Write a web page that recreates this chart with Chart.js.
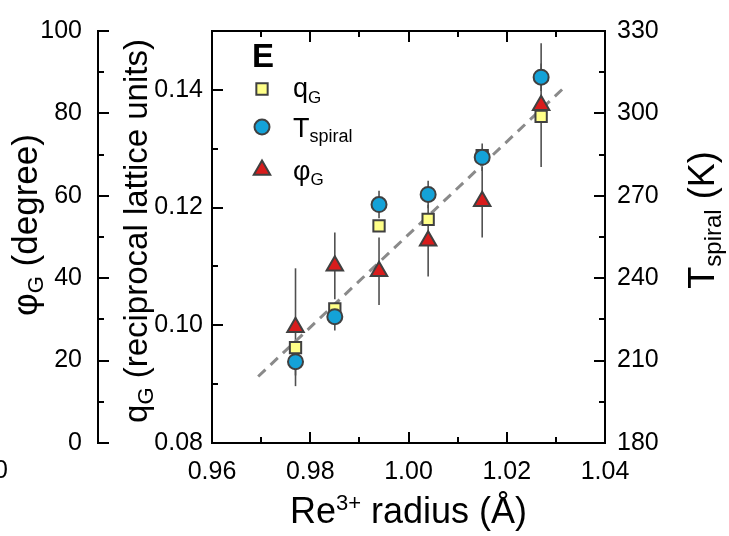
<!DOCTYPE html>
<html><head><meta charset="utf-8">
<script src="https://cdn.jsdelivr.net/npm/chart.js@4"></script>
<style>html,body{margin:0;padding:0;background:#fff;}canvas{display:block}</style>
</head><body>
<canvas id="c" width="729" height="536"></canvas>
<script>
// ---- data ----
const radius     = [0.977, 0.985, 0.994, 1.004, 1.015, 1.027];
const qG         = [0.0962, 0.1028, 0.1169, 0.1180, 0.1288, 0.1355];
const Tspiral    = [209.6, 226.0, 266.8, 270.5, 284.0, 313.2];
const TspiralErr = [5, 5, 5, 5, 5, 5];
const phiG       = [28.1, 43.0, 41.7, 49.1, 58.7, 82.0];
const phiGErr    = [14.3, 8.1, 8.2, 8.7, 8.8, 15.0];
const fitX       = [0.9694, 1.0322];
const fitQ       = [0.0913, 0.1408];

// ---- tick labels ----
const xTicks     = [0.96, 0.98, 1.00, 1.02, 1.04];
const xMinor     = [0.97, 0.99, 1.01, 1.03];
const qTicks     = [0.08, 0.10, 0.12, 0.14];
const qMinor     = [0.09, 0.11, 0.13];
const phiTicks   = [0, 20, 40, 60, 80, 100];
const phiMinor   = [10, 30, 50, 70, 90];
const tTicks     = [180, 210, 240, 270, 300, 330];
const tMinor     = [195, 225, 255, 285, 315];

const FAM = "'Liberation Sans', Arial, sans-serif";
Chart.defaults.font.family = FAM;
const TICKFONT = {family: FAM, size: 25};
const EDGE = '#404040';
const C_SQ = '#ffff88', C_CI = '#14a2d8', C_TR = '#d81c1c';

const pts = (xs, ys) => xs.map((x, i) => ({x: x, y: ys[i]}));
const setTicks = arr => (s => { s.ticks = arr.map(v => ({value: v})); });

function axisCommon(extra) {
  return Object.assign({
    type: 'linear',
    grid: {display: false, drawTicks: false},
    border: {display: true, color: '#000', width: 2},
  }, extra);
}

const errPlugin = {
  id: 'errbars',
  beforeDatasetsDraw(chart) {
    const ctx = chart.ctx, xs = chart.scales.x;
    ctx.save();
    ctx.strokeStyle = '#505050'; ctx.lineWidth = 1.6;
    const draw = (vals, errs, sc) => {
      vals.forEach((v, i) => {
        const px = xs.getPixelForValue(radius[i]);
        ctx.beginPath();
        ctx.moveTo(px, sc.getPixelForValue(v - errs[i]));
        ctx.lineTo(px, sc.getPixelForValue(v + errs[i]));
        ctx.stroke();
      });
    };
    draw(phiG, phiGErr, chart.scales.yPhi);
    draw(Tspiral, TspiralErr, chart.scales.yT);
    ctx.restore();
  }
};

function drawRich(ctx, parts, cx, cy, rot) {
  ctx.save();
  ctx.translate(cx, cy); ctx.rotate(rot);
  let w = 0;
  parts.forEach(p => { ctx.font = (p.b ? 'bold ' : '') + p.s + 'px ' + FAM; p.w = ctx.measureText(p.t).width; w += p.w; });
  let x = -w / 2;
  ctx.textAlign = 'left'; ctx.textBaseline = 'alphabetic'; ctx.fillStyle = '#000';
  parts.forEach(p => { ctx.font = (p.b ? 'bold ' : '') + p.s + 'px ' + FAM; ctx.fillText(p.t, x, p.dy || 0); x += p.w; });
  ctx.restore();
}
function drawLeft(ctx, parts, x0, y0) {
  ctx.save();
  ctx.textAlign = 'left'; ctx.textBaseline = 'alphabetic'; ctx.fillStyle = '#000';
  let x = x0;
  parts.forEach(p => { ctx.font = (p.b ? 'bold ' : '') + p.s + 'px ' + FAM; ctx.fillText(p.t, x, y0 + (p.dy || 0)); x += ctx.measureText(p.t).width; });
  ctx.restore();
}

const decoPlugin = {
  id: 'deco',
  afterDraw(chart) {
    const ctx = chart.ctx, S = chart.scales, a = chart.chartArea;
    ctx.save();
    ctx.strokeStyle = '#000'; ctx.lineWidth = 2; ctx.lineCap = 'butt';
    const MJ = 11, MN = 6;
    const hTicks = (sc, y, dir, arr, len) => arr.forEach(v => {
      const p = Math.round(sc.getPixelForValue(v));
      ctx.beginPath(); ctx.moveTo(p, y); ctx.lineTo(p, y + dir * len); ctx.stroke();
    });
    const vTicks = (sc, x, dir, arr, len) => arr.forEach(v => {
      const p = Math.round(sc.getPixelForValue(v));
      ctx.beginPath(); ctx.moveTo(x, p); ctx.lineTo(x + dir * len, p); ctx.stroke();
    });
    hTicks(S.x, a.bottom, -1, xTicks, MJ); hTicks(S.x, a.bottom, -1, xMinor, MN);
    hTicks(S.xTop, a.top, 1, xTicks, MJ); hTicks(S.xTop, a.top, 1, xMinor, MN);
    vTicks(S.yQ, a.left, 1, qTicks, MJ); vTicks(S.yQ, a.left, 1, qMinor, MN);
    vTicks(S.yT, a.right, -1, tTicks, MJ); vTicks(S.yT, a.right, -1, tMinor, MN);
    const xl = S.yPhi.right;
    vTicks(S.yPhi, xl, 1, phiTicks, MJ); vTicks(S.yPhi, xl, 1, phiMinor, MN);
    ctx.restore();

    // axis titles
    drawRich(ctx, [{t: 'Re', s: 36}, {t: '3+', s: 22, dy: -13}, {t: ' radius (\u00C5)', s: 36}], (a.left + a.right) / 2, 523, 0);
    drawRich(ctx, [{t: '\u03C6', s: 35}, {t: 'G', s: 22, dy: 6}, {t: ' (degree)', s: 35}], 37, 225, -Math.PI / 2);
    drawRich(ctx, [{t: 'q', s: 33}, {t: 'G', s: 22, dy: 6}, {t: ' (reciprocal lattice units)', s: 33}], 147, 231, -Math.PI / 2);
    drawRich(ctx, [{t: 'T', s: 36}, {t: 'spiral', s: 24, dy: 7}, {t: ' (K)', s: 36}], 714, 220, -Math.PI / 2);

    // stray label of neighbouring panel
    ctx.save(); ctx.font = '25px ' + FAM; ctx.fillStyle = '#000'; ctx.textAlign = 'right'; ctx.textBaseline = 'middle';
    ctx.fillText('0', 8, 471); ctx.restore();

    // legend
    drawLeft(ctx, [{t: 'E', s: 33, b: true}], 252, 67);
    const sym = (style, r, fill, x, y) => {
      ctx.save(); ctx.fillStyle = fill; ctx.strokeStyle = EDGE; ctx.lineWidth = 2;
      Chart.helpers.drawPoint(ctx, {pointStyle: style, radius: r, borderWidth: 2, rotation: 0}, x, y);
      ctx.restore();
    };
    sym('rect', 8, C_SQ, 262, 89);
    sym('circle', 7.5, C_CI, 262, 127);
    sym('triangle', 9.5, C_TR, 262, 170);
    drawLeft(ctx, [{t: 'q', s: 27}, {t: 'G', s: 17, dy: 6}], 293, 97);
    drawLeft(ctx, [{t: 'T', s: 27}, {t: 'spiral', s: 18, dy: 5}], 293, 137);
    drawLeft(ctx, [{t: '\u03C6', s: 27}, {t: 'G', s: 17, dy: 5}], 293, 180);
  }
};

new Chart(document.getElementById('c'), {
  type: 'scatter',
  data: {
    datasets: [
      {label: 'phiG', data: pts(radius, phiG), xAxisID: 'x', yAxisID: 'yPhi',
       pointStyle: 'triangle', pointRadius: 9.5, pointBackgroundColor: C_TR, pointBorderColor: EDGE, pointBorderWidth: 2, showLine: false},
      {label: 'Tspiral', data: pts(radius, Tspiral), xAxisID: 'x', yAxisID: 'yT',
       pointStyle: 'circle', pointRadius: 7.5, pointBackgroundColor: C_CI, pointBorderColor: EDGE, pointBorderWidth: 2, showLine: false},
      {label: 'qG', data: pts(radius, qG), xAxisID: 'x', yAxisID: 'yQ',
       pointStyle: 'rect', pointRadius: 8, pointBackgroundColor: C_SQ, pointBorderColor: EDGE, pointBorderWidth: 2, showLine: false},
      {type: 'line', label: 'fit', data: pts(fitX, fitQ), xAxisID: 'x', yAxisID: 'yQ',
       borderColor: '#8a8a8a', borderWidth: 3, borderDash: [10, 7], pointRadius: 0, fill: false, tension: 0}
    ]
  },
  options: {
    responsive: false, animation: false, devicePixelRatio: 1,
    layout: {padding: {left: 0, right: 0, top: 23, bottom: 0}},
    plugins: {legend: {display: false}, tooltip: {enabled: false}, title: {display: false}},
    scales: {
      x: axisCommon({position: 'bottom', min: 0.96, max: 1.04, afterBuildTicks: setTicks(xTicks),
        afterFit: s => { s.height = 93; },
        ticks: {font: TICKFONT, color: '#000', padding: 14, autoSkip: false, maxRotation: 0, callback: v => Number(v).toFixed(2)}}),
      xTop: axisCommon({position: 'top', min: 0.96, max: 1.04, afterFit: s => { s.height = 0; },
        ticks: {display: false}}),
      yQ: axisCommon({position: 'left', weight: 1, min: 0.08, max: 0.15, afterBuildTicks: setTicks(qTicks),
        afterFit: s => { s.width = 114; },
        ticks: {font: TICKFONT, color: '#000', padding: 9, autoSkip: false, callback: v => Number(v).toFixed(2)}}),
      yPhi: axisCommon({position: 'left', weight: 2, min: 0, max: 100, afterBuildTicks: setTicks(phiTicks),
        afterFit: s => { s.width = 98; },
        ticks: {font: TICKFONT, color: '#000', padding: 16, autoSkip: false}}),
      yT: axisCommon({position: 'right', min: 180, max: 330, afterBuildTicks: setTicks(tTicks),
        afterFit: s => { s.width = 124; },
        ticks: {font: TICKFONT, color: '#000', padding: 12, autoSkip: false}})
    }
  },
  plugins: [errPlugin, decoPlugin]
});
</script>
</body></html>
